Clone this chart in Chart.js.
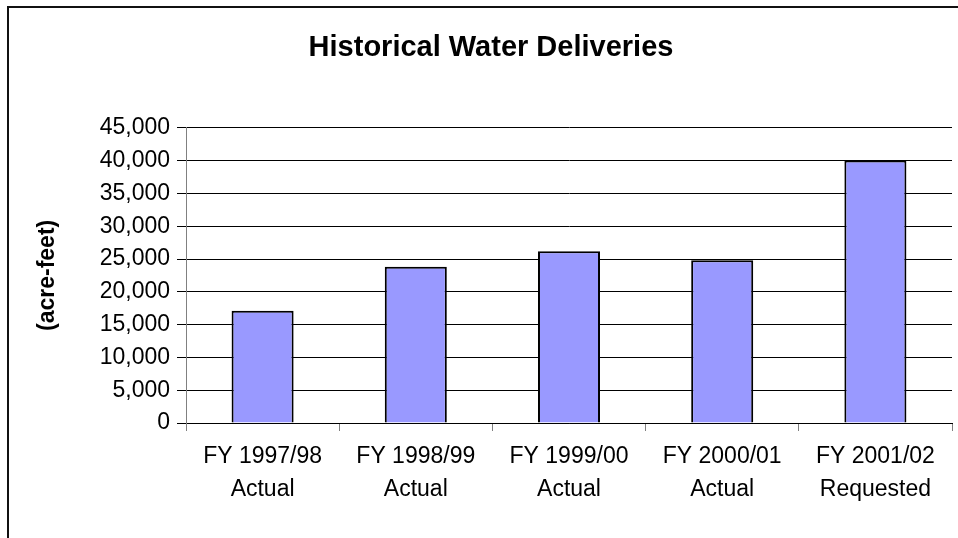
<!DOCTYPE html>
<html>
<head>
<meta charset="utf-8">
<title>Historical Water Deliveries</title>
<script src="https://cdn.jsdelivr.net/npm/chart.js@4/dist/chart.umd.min.js"></script>
<style>
    html, body { margin: 0; padding: 0; background: #fff; }
    #chart-container { width: 958px; height: 538px; }
</style>
</head>
<body>
<div id="chart-container"><canvas id="deliveries"></canvas></div>
<script>
// Fiscal years (two-line labels) and deliveries in acre-feet
const yearLabels = ["FY 1997/98", "FY 1998/99", "FY 1999/00", "FY 2000/01", "FY 2001/02"];
const statusLabels = ["Actual", "Actual", "Actual", "Actual", "Requested"];
const deliveries = [17100, 23800, 26200, 24800, 40000];

const yTicks = { min: 0, max: 45000, step: 5000 };

// Black frame along the top and left edges, like the original slide
const framePlugin = {
    id: "frame",
    beforeDraw(chart) {
        const ctx = chart.ctx;
        ctx.save();
        ctx.fillStyle = "#ffffff";
        ctx.fillRect(0, 0, chart.width, chart.height);
        ctx.strokeStyle = "#111111";
        ctx.lineWidth = 2;
        ctx.beginPath();
        ctx.moveTo(8, chart.height);
        ctx.lineTo(8, 7);
        ctx.lineTo(chart.width, 7);
        ctx.stroke();
        ctx.restore();
    }
};

document.addEventListener("DOMContentLoaded", () => {
    const ctx = document.getElementById("deliveries").getContext("2d");

    new Chart(ctx, {
        type: "bar",
        data: {
            labels: yearLabels.map((y, i) => [y, statusLabels[i]]),
            datasets: [{
                label: "Deliveries",
                data: deliveries,
                backgroundColor: "#9999ff",
                borderColor: "#000000",
                borderWidth: 2,
                barPercentage: 0.405,
                categoryPercentage: 1
            }]
        },
        options: {
            responsive: true,
            maintainAspectRatio: false,
            animation: false,
            layout: {
                padding: { left: 30, right: 6, top: 0, bottom: 0 }
            },
            plugins: {
                legend: { display: false },
                tooltip: { enabled: false },
                title: {
                    display: true,
                    text: "Historical Water Deliveries",
                    color: "#000000",
                    font: { family: "'Liberation Sans', Arial, sans-serif", size: 29, weight: "bold", lineHeight: 1.2 },
                    padding: { top: 31, bottom: 62 }
                }
            },
            scales: {
                x: {
                    grid: {
                        offset: true,
                        drawOnChartArea: false,
                        color: "#808080",
                        tickLength: 8
                    },
                    border: { color: "#000000", width: 1 },
                    ticks: {
                        color: "#000000",
                        padding: 9,
                        maxRotation: 0,
                        font: { family: "'Liberation Sans', Arial, sans-serif", size: 23, lineHeight: 1.45 }
                    },
                    afterFit: (scale) => { scale.height = 115; }
                },
                y: {
                    min: yTicks.min,
                    max: yTicks.max,
                    grid: {
                        color: "#000000",
                        lineWidth: 1,
                        tickLength: 9
                    },
                    border: { color: "#808080", width: 1 },
                    ticks: {
                        stepSize: yTicks.step,
                        color: "#000000",
                        padding: 7,
                        font: { family: "'Liberation Sans', Arial, sans-serif", size: 23 },
                        callback: (value) => value.toLocaleString("en-US")
                    },
                    title: {
                        display: true,
                        text: "(acre-feet)",
                        color: "#000000",
                        font: { family: "'Liberation Sans', Arial, sans-serif", size: 23, weight: "bold", lineHeight: 1.2 },
                        padding: { top: 4, bottom: 0 }
                    },
                    afterFit: (scale) => { scale.width = 156; }
                }
            }
        },
        plugins: [framePlugin]
    });
});
</script>
</body>
</html>
